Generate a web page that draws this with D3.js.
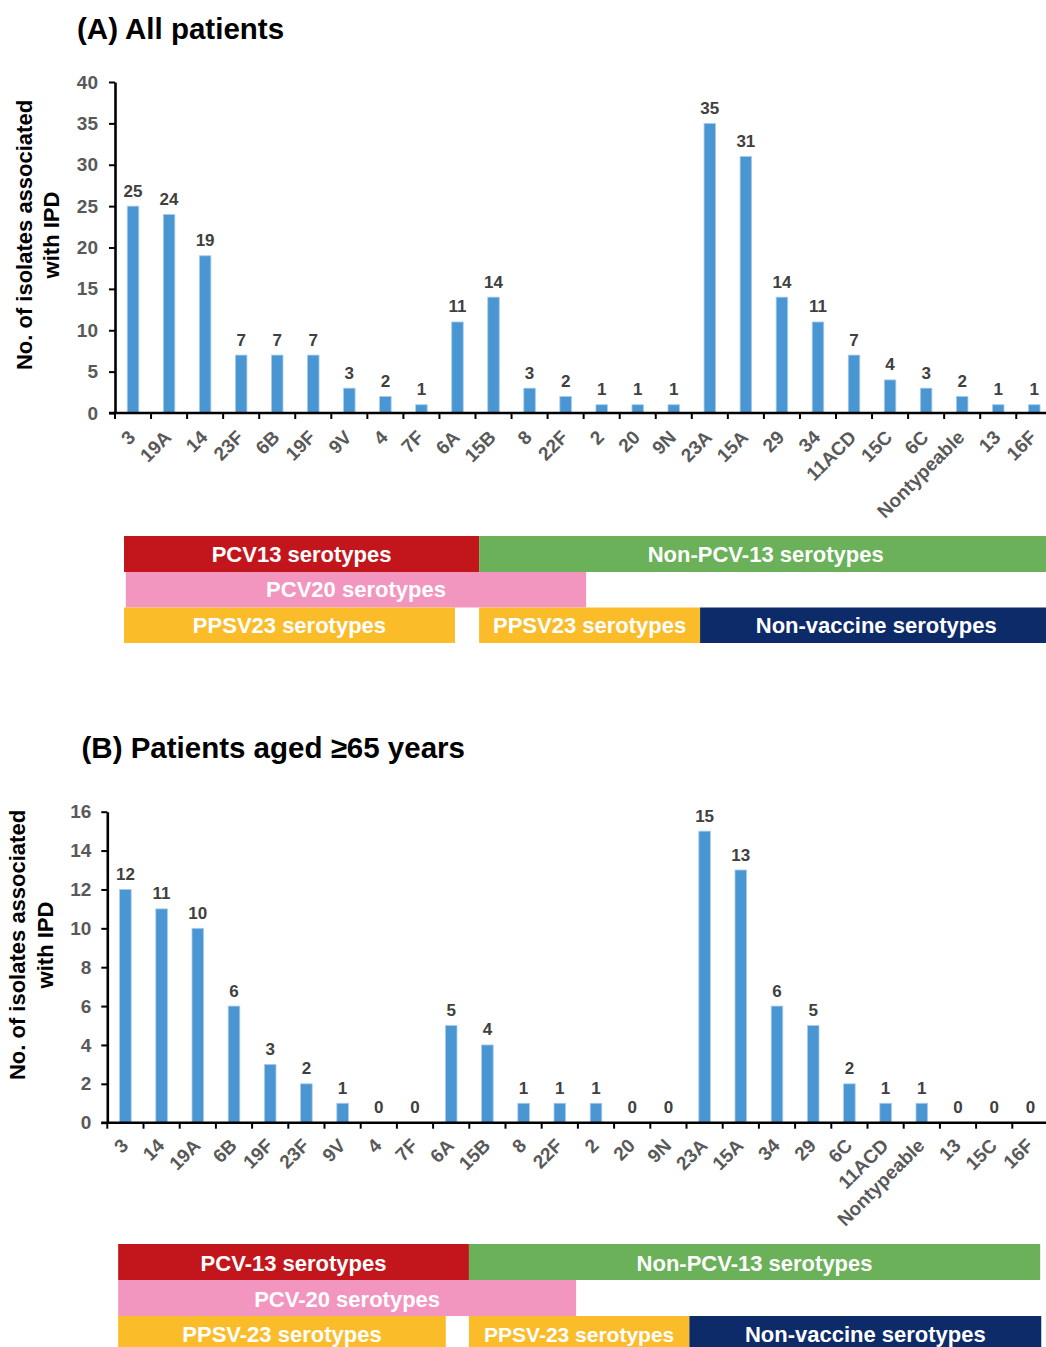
<!DOCTYPE html>
<html>
<head>
<meta charset="utf-8">
<script src="https://cdn.jsdelivr.net/npm/d3@7"></script>
<style>
  html, body { margin: 0; padding: 0; background: #fff; }
  svg { display: block; }
  text { font-family: Arial, "Liberation Sans", sans-serif; font-weight: bold; }
</style>
</head>
<body>
<svg id="chart" width="1046" height="1347"></svg>
<script>
// ---------------- DATA ----------------
const titleA = "(A) All patients";
const titleB = "(B) Patients aged \u226565 years";
const yTitleLines = ["No. of isolates associated", "with IPD"];

const categoriesA = ["3","19A","14","23F","6B","19F","9V","4","7F","6A","15B","8","22F","2","20","9N","23A","15A","29","34","11ACD","15C","6C","Nontypeable","13","16F"];
const valuesA     = [25, 24, 19, 7, 7, 7, 3, 2, 1, 11, 14, 3, 2, 1, 1, 1, 35, 31, 14, 11, 7, 4, 3, 2, 1, 1];
const yTicksA     = [0, 5, 10, 15, 20, 25, 30, 35, 40];

const categoriesB = ["3","14","19A","6B","19F","23F","9V","4","7F","6A","15B","8","22F","2","20","9N","23A","15A","34","29","6C","11ACD","Nontypeable","13","15C","16F"];
const valuesB     = [12, 11, 10, 6, 3, 2, 1, 0, 0, 5, 4, 1, 1, 1, 0, 0, 15, 13, 6, 5, 2, 1, 1, 0, 0, 0];
const yTicksB     = [0, 2, 4, 6, 8, 10, 12, 14, 16];

const groupLabelsA = ["PCV13 serotypes", "Non-PCV-13 serotypes", "PCV20 serotypes", "PPSV23 serotypes", "PPSV23 serotypes", "Non-vaccine serotypes"];
const groupLabelsB = ["PCV-13 serotypes", "Non-PCV-13 serotypes", "PCV-20 serotypes", "PPSV-23 serotypes", "PPSV-23 serotypes", "Non-vaccine serotypes"];

// ---------------- LAYOUT / STYLE ----------------
const COLORS = { red: "#c3161c", green: "#6ab159", pink: "#f295bf", yellow: "#fbbc2a", navy: "#0d2a69" };
const bandColorOrder = [COLORS.red, COLORS.green, COLORS.pink, COLORS.yellow, COLORS.yellow, COLORS.navy];
const bandRowOrder = [0, 0, 1, 2, 2, 2];

const panels = [
  {
    title: titleA, titleX: 77, titleY: 39,
    cats: categoriesA, vals: valuesA, yTicks: yTicksA, yMax: 40,
    x0: 115, step: 36.05, axisY: 413, topY: 82,
    yTitleX: [32, 59], yTitleY: 235, tickPad: 11, labDy: 25.5, labDx: 3.5,
    groups: groupLabelsA,
    spans: [[0.25, 10.1], [10.1, 26], [0.3, 13.07], [0.25, 9.43], [10.1, 16.23], [16.23, 26]],
    rows: [[536, 572], [572, 607.5], [607.5, 643]],
    textBase: [561.5, 597, 633],
    fontSizes: [22, 22, 22, 22, 22, 22]
  },
  {
    title: titleB, titleX: 81.5, titleY: 758,
    cats: categoriesB, vals: valuesB, yTicks: yTicksB, yMax: 16,
    x0: 107.3, step: 36.2, axisY: 1122.7, topY: 811.7,
    yTitleX: [25, 53], yTitleY: 945, tickPad: 10, labDy: 24, labDx: 4,
    groups: groupLabelsB,
    spans: [[0.3, 9.99], [9.99, 25.77], [0.3, 12.95], [0.3, 9.35], [9.99, 16.08], [16.08, 25.8]],
    rows: [[1244, 1280], [1280, 1316], [1316, 1352]],
    textBase: [1271, 1307, 1342],
    fontSizes: [22, 22, 22, 22, 21, 22]
  }
];

const svg = d3.select("#chart");

panels.forEach(p => {
  const g = svg.append("g");
  const n = p.cats.length;
  const x = d3.scaleBand().domain(p.cats).range([p.x0, p.x0 + n * p.step]).paddingInner(0).paddingOuter(0);
  const u = d3.scaleLinear().domain([0, n]).range([p.x0, p.x0 + n * p.step]);
  const y = d3.scaleLinear().domain([0, p.yMax]).range([p.axisY, p.topY]);
  const bw = x.bandwidth();
  const barW = bw * 0.32;

  // title
  g.append("text").attr("x", p.titleX).attr("y", p.titleY)
    .attr("font-size", 29.5).attr("fill", "#000").text(p.title);

  // y title
  yTitleLines.forEach((line, i) => {
    g.append("text")
      .attr("transform", `translate(${p.yTitleX[i]},${p.yTitleY}) rotate(-90)`)
      .attr("text-anchor", "middle").attr("font-size", 22).attr("fill", "#000")
      .text(line);
  });

  // bars
  g.selectAll("rect.bar").data(p.cats.map((c, i) => ({ c, v: p.vals[i] })))
    .enter().append("rect").attr("class", "bar")
    .attr("x", d => x(d.c) + (bw - barW) / 2)
    .attr("width", barW)
    .attr("y", d => y(d.v))
    .attr("height", d => y(0) - y(d.v))
    .attr("fill", "#4a96d2")
    .attr("stroke", "#a9cdec").attr("stroke-width", 0.8);

  // value labels
  g.selectAll("text.val").data(p.cats.map((c, i) => ({ c, v: p.vals[i] })))
    .enter().append("text").attr("class", "val")
    .attr("x", d => x(d.c) + bw / 2)
    .attr("y", d => y(d.v) - 9.5)
    .attr("text-anchor", "middle").attr("font-size", 17).attr("fill", "#404040")
    .text(d => d.v);

  // y axis
  const yAxis = d3.axisLeft(y).tickValues(p.yTicks).tickSize(6).tickSizeOuter(0).tickPadding(p.tickPad);
  const ya = g.append("g").attr("transform", `translate(${p.x0},0)`).call(yAxis);
  ya.select(".domain").attr("stroke", "#000").attr("stroke-width", 2.6);
  ya.selectAll(".tick line").attr("stroke", "#000").attr("stroke-width", 2);
  ya.selectAll(".tick text").attr("font-size", 19).attr("fill", "#595959")
    .style("font-family", "Arial, 'Liberation Sans', sans-serif").style("font-weight", "bold");

  // x axis
  const xAxis = d3.axisBottom(x).tickSize(0).tickSizeOuter(0).tickPadding(0);
  const xa = g.append("g").attr("transform", `translate(0,${p.axisY})`).call(xAxis);
  xa.select(".domain").attr("stroke", "#000").attr("stroke-width", 2.6)
    .attr("d", `M${p.x0 - 6},0H${p.x0 + n * p.step}`);
  xa.selectAll(".tick text")
    .attr("y", 0).attr("dy", 0)
    .attr("transform", `translate(${p.labDx},${p.labDy}) rotate(-45)`)
    .attr("text-anchor", "end").attr("font-size", 19).attr("fill", "#595959")
    .style("font-family", "Arial, 'Liberation Sans', sans-serif").style("font-weight", "bold");

  // tick marks at category boundaries
  const bounds = p.cats.map(c => x(c)).concat([x(p.cats[n - 1]) + bw]);
  g.selectAll("line.xt").data(bounds).enter().append("line").attr("class", "xt")
    .attr("x1", d => d).attr("x2", d => d)
    .attr("y1", p.axisY).attr("y2", p.axisY + 6)
    .attr("stroke", "#000").attr("stroke-width", 2);

  // serotype group bands
  p.groups.forEach((label, i) => {
    const [s0, s1] = p.spans[i];
    const row = p.rows[bandRowOrder[i]];
    g.append("rect")
      .attr("x", u(s0)).attr("width", u(s1) - u(s0))
      .attr("y", row[0]).attr("height", row[1] - row[0])
      .attr("fill", bandColorOrder[i]);
    g.append("text")
      .attr("x", (u(s0) + u(s1)) / 2)
      .attr("y", p.textBase[bandRowOrder[i]])
      .attr("text-anchor", "middle").attr("font-size", p.fontSizes[i]).attr("fill", "#fff")
      .text(label);
  });
});
</script>
</body>
</html>
